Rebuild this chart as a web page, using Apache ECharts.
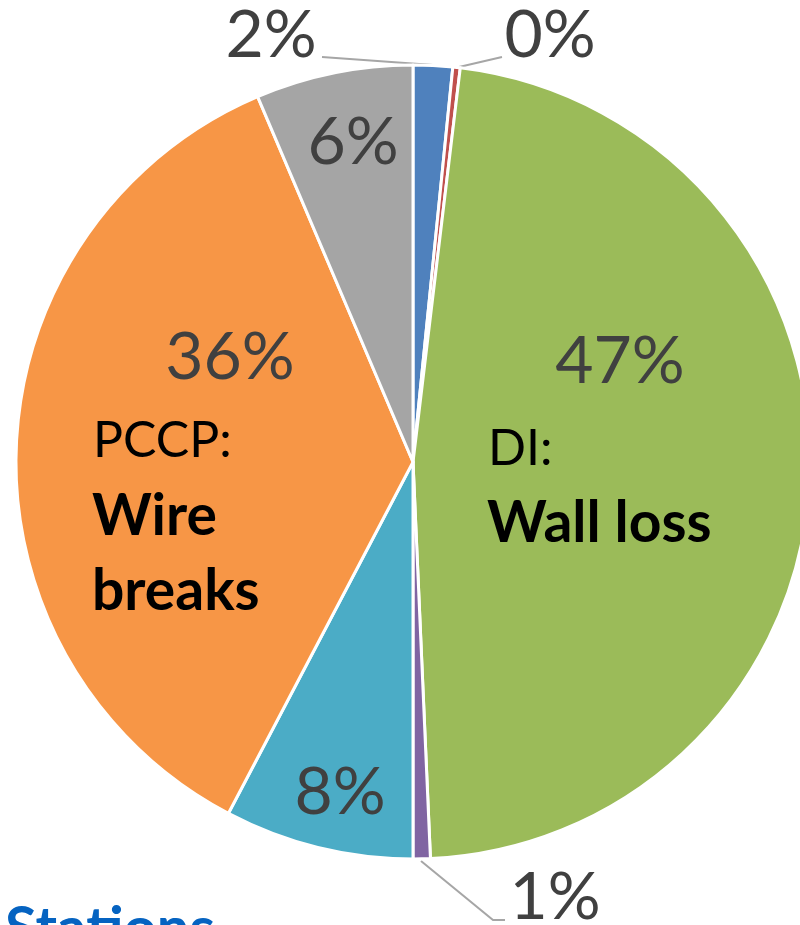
<!DOCTYPE html>
<html>
<head>
<meta charset="utf-8">
<script src="https://cdn.jsdelivr.net/npm/echarts@6/dist/echarts.min.js"></script>
<style>
html,body{margin:0;padding:0;background:#fff;}
#chart{width:800px;height:925px;}
</style>
</head>
<body>
<div id="chart"></div>
<script>
// Slices clockwise from 12 o'clock
const categories = ['Blue', 'Red', 'DI', 'Purple', 'Teal', 'PCCP', 'Gray'];
const values = [1.6, 0.3, 47.4, 0.7, 7.7, 35.9, 6.4];
const colors = ['#4F81BD', '#C0504D', '#9BBB59', '#8064A2', '#4BACC6', '#F79646', '#A5A5A5'];
const outsideLabel = [true, true, false, true, false, false, false];

// label centers (pixel positions) and leader lines
const labelPos = [
  {x: 271, y: 36, line: [[322, 57], [433, 65]]},
  {x: 550, y: 36, line: [[502, 57], [459, 67]]},
  {x: 620, y: 362},
  {x: 555, y: 898, line: [[505, 920], [493, 920], [421, 861]]},
  {x: 340, y: 793},
  {x: 230, y: 358},
  {x: 353, y: 143}
];

const chart = echarts.init(document.getElementById('chart'), null, {renderer: 'canvas'});
const labelFont = 'Lato, "Open Sans", sans-serif';

function annot(text, x, y, bold) {
  return {
    type: 'text', x: x, y: y, z: 100, silent: true,
    style: {text: text, fontFamily: labelFont, fontSize: bold ? 57 : 50, fontWeight: bold ? 'bold' : 'normal',
            fill: '#000000', verticalAlign: 'middle', align: 'left'}
  };
}

const option = {
  animation: false,
  backgroundColor: '#ffffff',
  series: [{
    type: 'pie',
    center: [413, 462],
    radius: 397,
    startAngle: 90,
    clockwise: true,
    avoidLabelOverlap: false,
    silent: true,
    itemStyle: {borderColor: '#ffffff', borderWidth: 3},
    label: {
      show: true,
      position: 'outside',
      formatter: p => Math.round(p.percent) + '%',
      fontFamily: labelFont,
      fontSize: 66,
      color: '#404040'
    },
    labelLine: {show: true, lineStyle: {color: '#A6A6A6', width: 2}},
    labelLayout: function (params) {
      const p = labelPos[params.dataIndex];
      const r = {x: p.x, y: p.y, align: 'center', verticalAlign: 'middle'};
      if (p.line) r.labelLinePoints = p.line;
      return r;
    },
    data: categories.map((c, i) => ({
      name: c,
      value: values[i],
      itemStyle: {color: colors[i]},
      labelLine: {show: outsideLabel[i]}
    }))
  }],
  graphic: [
    annot('PCCP:', 93, 441, false),
    annot('Wire', 92, 517, true),
    annot('breaks', 92, 592, true),
    annot('DI:', 488, 449, false),
    annot('Wall loss', 487, 524, true),
    {type: 'text', x: 5, y: 929, z: 100, silent: true,
     style: {text: 'Stations', fontFamily: labelFont, fontSize: 58, fontWeight: 'bold', fill: '#0563C1', verticalAlign: 'middle', align: 'left'}}
  ]
};
chart.setOption(option);
</script>
</body>
</html>
